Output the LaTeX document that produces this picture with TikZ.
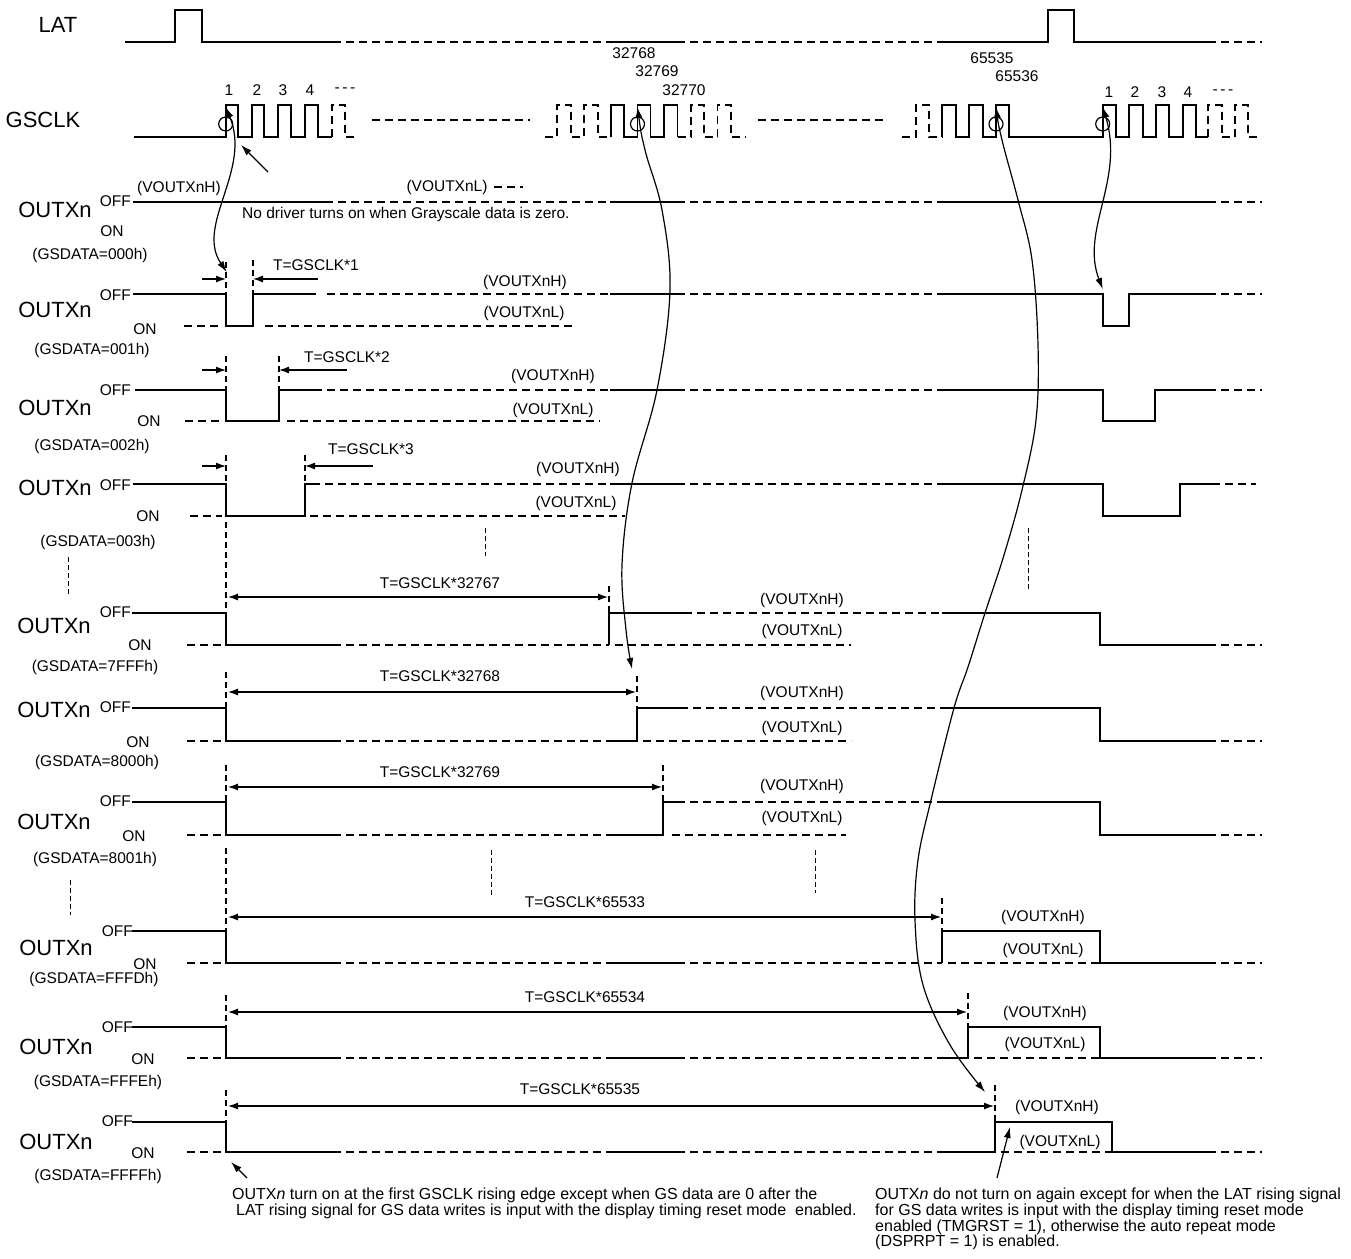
\documentclass[tikz,border=0pt]{standalone}
\usepackage{fontspec}
\setmainfont{Liberation Sans}
\usetikzlibrary{arrows.meta}
\begin{document}
\begin{tikzpicture}[x=1pt,y=-1pt,
  sig/.style={line width=1.7pt, line join=miter},
  dsig/.style={line width=1.7pt, dash pattern=on 8pt off 5pt},
  vmk/.style={line width=1.1pt, dash pattern=on 6pt off 4pt},
  sepd/.style={line width=1pt, dash pattern=on 5pt off 3pt},
  dimr/.style={line width=1.2pt, -{Latex[length=10pt,width=7pt]}},
  diml/.style={line width=1.2pt, {Latex[length=10pt,width=7pt]}-{Latex[length=10pt,width=7pt]}},
  curv/.style={line width=1.2pt, {Latex[length=11pt,width=7pt]}-{Latex[length=11pt,width=7pt]}},
  tipa/.style={line width=1.2pt, -{Latex[length=11pt,width=7pt]}},
  biglbl/.style={font=\fontsize{22}{25}\selectfont, inner sep=0pt},
  lbl/.style={font=\fontsize{15.5}{18}\selectfont, inner sep=0pt},
  notet/.style={font=\fontsize{16}{18}\selectfont, inner sep=0pt, anchor=west}
]
\useasboundingbox (0,0) rectangle (1351,1258);

% ---------------- LAT ----------------
\node[biglbl] (latl) at (58,25) {LAT};
\draw[sig] (125,42) -- (175,42) -- (175,10) -- (202,10) -- (202,42) -- (333,42);
\draw[dsig] (333,42) -- (610,42);
\draw[sig] (610,42) -- (677,42);
\draw[dsig] (677,42) -- (943,42);
\draw[sig] (943,42) -- (1048,42) -- (1048,10) -- (1074,10) -- (1074,42) -- (1208,42);
\draw[dsig] (1208,42) -- (1262,42);

% ---------------- GSCLK ----------------
\node[biglbl] (gsl) at (43,120) {GSCLK};
\draw[sig] (134,137) -- (225.7,137) -- (225.7,105) -- (237.7,105) -- (237.7,137)
  -- (251.7,137) -- (251.7,105) -- (264.3,105) -- (264.3,137)
  -- (278.3,137) -- (278.3,105) -- (291,105) -- (291,137)
  -- (305,137) -- (305,105) -- (318.3,105) -- (318.3,137) -- (331.7,137);
\draw[dsig] (331.7,137) -- (331.7,105) -- (345,105) -- (345,137) -- (358,137);
\draw[dsig] (372,120) -- (530,120);
\draw[dsig] (545,137) -- (557.3,137) -- (557.3,105) -- (570.7,105) -- (570.7,137)
  -- (584,137) -- (584,105) -- (597.7,105) -- (597.7,137) -- (611,137);
\draw[sig] (611,137) -- (611,105) -- (624,105) -- (624,137) -- (637.5,137) -- (637.5,105)
  -- (650.5,105) -- (650.5,137) -- (664,137) -- (664,105) -- (677.5,105) -- (677.5,137);
\draw[dsig] (677.5,137) -- (691,137) -- (691,105) -- (704,105) -- (704,137) -- (717.5,137)
  -- (717.5,105) -- (731,105) -- (731,137) -- (745,137);
\draw[dsig] (758,120) -- (887,120);
\draw[dsig] (902,137) -- (915.7,137) -- (915.7,105) -- (929,105) -- (929,137) -- (942.3,137);
\draw[sig] (942.3,137) -- (942.3,105) -- (955.7,105) -- (955.7,137) -- (969.3,137) -- (969.3,105)
  -- (982.7,105) -- (982.7,137) -- (996,137) -- (996,105) -- (1009.3,105) -- (1009.3,137)
  -- (1102.7,137) -- (1102.7,105) -- (1116,105) -- (1116,137) -- (1129.3,137) -- (1129.3,105)
  -- (1142.7,105) -- (1142.7,137) -- (1156,137) -- (1156,105) -- (1169.3,105) -- (1169.3,137)
  -- (1182.7,137) -- (1182.7,105) -- (1196,105) -- (1196,137) -- (1208.3,137);
\draw[dsig] (1208.3,137) -- (1208.3,105) -- (1221.7,105) -- (1221.7,137) -- (1235,137)
  -- (1235,105) -- (1248.3,105) -- (1248.3,137) -- (1261.7,137);

\node[lbl] (n1a) at (229,90) {1};
\node[lbl] (n2a) at (257,90) {2};
\node[lbl] (n3a) at (283,90) {3};
\node[lbl] (n4a) at (310,90) {4};
\node[lbl] (nda) at (345,90) {-\,-\,-};
\node[lbl] (n1b) at (1109,92) {1};
\node[lbl] (n2b) at (1135,92) {2};
\node[lbl] (n3b) at (1162,92) {3};
\node[lbl] (n4b) at (1188,92) {4};
\node[lbl] (ndb) at (1223,92) {-\,-\,-};
\node[lbl] (c32768) at (634,53) {32768};
\node[lbl] (c32769) at (657,71) {32769};
\node[lbl] (c32770) at (684,90) {32770};
\node[lbl] (c65535) at (992,58) {65535};
\node[lbl] (c65536) at (1017,76) {65536};

\foreach \cx in {225.7,637.5,996,1102.7}
  \draw[line width=1.2pt] (\cx,124) circle (7);
\coordinate (ga) at (225.7,107);
\coordinate (gb) at (637.5,107);
\coordinate (gc) at (996,107);
\coordinate (gd) at (1102.7,107);

% ---------------- Row 0 ----------------
\node[biglbl] (o0) at (55,210) {OUTXn};
\node[lbl,anchor=east] (off0) at (131,201) {OFF};
\node[lbl] (on0) at (112,231) {ON};
\node[lbl] (gs0) at (90,255) {(GSDATA=000h)};
\node[lbl] (vh0) at (179,188) {(VOUTXnH)};
\node[lbl] (vl0) at (447,187) {(VOUTXnL)};
\draw[dsig] (494,187) -- (523,187);
\node[lbl,anchor=west] (nd0) at (242,214) {No driver turns on when Grayscale data is zero.};
\draw[sig] (133,202) -- (325,202);
\draw[dsig] (325,202) -- (610,202);
\draw[sig] (610,202) -- (677,202);
\draw[dsig] (677,202) -- (942,202);
\draw[sig] (942,202) -- (1208,202);
\draw[dsig] (1208,202) -- (1262,202);

% ---------------- Row 1 ----------------
\node[biglbl] (o1) at (55,310) {OUTXn};
\node[lbl,anchor=east] (off1) at (131,295) {OFF};
\node[lbl] (on1) at (145,329) {ON};
\node[lbl] (gs1) at (92,350) {(GSDATA=001h)};
\node[lbl] (vh1) at (525,282) {(VOUTXnH)};
\node[lbl] (vl1) at (524,313) {(VOUTXnL)};
\node[lbl] (t1) at (316,265) {T=GSCLK*1};
\draw[sig] (133,294) -- (226,294) -- (226,326) -- (253,326) -- (253,294) -- (316,294);
\draw[dsig] (327,294) -- (610,294);
\draw[sig] (610,294) -- (677,294);
\draw[dsig] (677,294) -- (942,294);
\draw[sig] (942,294) -- (1102.7,294) -- (1102.7,326) -- (1129,326) -- (1129,294) -- (1208,294);
\draw[dsig] (1208,294) -- (1262,294);
\draw[dsig] (184,326) -- (222,326);
\draw[dsig] (265,326) -- (572,326);
\draw[vmk] (226,262) -- (226,294);
\draw[vmk] (253,260) -- (253,294);
\coordinate (a1l) at (202,279); \coordinate (a1r) at (318,279);
\coordinate (m1l) at (226,279); \coordinate (m1r) at (253,279);
\draw[dimr] (a1l) -- (m1l);
\draw[dimr] (a1r) -- (m1r);
\coordinate (r1a) at (226.7,272);
\coordinate (r1b) at (1102.7,289);

% ---------------- Row 2 ----------------
\node[biglbl] (o2) at (55,408) {OUTXn};
\node[lbl,anchor=east] (off2) at (131,390) {OFF};
\node[lbl] (on2) at (149,421) {ON};
\node[lbl] (gs2) at (92,446) {(GSDATA=002h)};
\node[lbl] (vh2) at (553,376) {(VOUTXnH)};
\node[lbl] (vl2) at (553,410) {(VOUTXnL)};
\node[lbl] (t2) at (347,357) {T=GSCLK*2};
\draw[sig] (135,390) -- (226,390) -- (226,421) -- (279,421) -- (279,390) -- (322,390);
\draw[dsig] (327,390) -- (610,390);
\draw[sig] (610,390) -- (677,390);
\draw[dsig] (677,390) -- (942,390);
\draw[sig] (942,390) -- (1102.7,390) -- (1102.7,421) -- (1155,421) -- (1155,390) -- (1208,390);
\draw[dsig] (1208,390) -- (1262,390);
\draw[dsig] (185,421) -- (222,421);
\draw[dsig] (287,421) -- (600,421);
\draw[vmk] (226,356) -- (226,390);
\draw[vmk] (279,356) -- (279,390);
\coordinate (a2l) at (202,370); \coordinate (a2r) at (347,370);
\coordinate (m2l) at (226,370); \coordinate (m2r) at (279,370);
\draw[dimr] (a2l) -- (m2l);
\draw[dimr] (a2r) -- (m2r);

% ---------------- Row 3 ----------------
\node[biglbl] (o3) at (55,488) {OUTXn};
\node[lbl,anchor=east] (off3) at (131,485) {OFF};
\node[lbl] (on3) at (148,516) {ON};
\node[lbl] (gs3) at (98,542) {(GSDATA=003h)};
\node[lbl] (vh3) at (578,469) {(VOUTXnH)};
\node[lbl] (vl3) at (576,503) {(VOUTXnL)};
\node[lbl] (t3) at (371,449) {T=GSCLK*3};
\draw[sig] (133,484) -- (226,484) -- (226,516) -- (305,516) -- (305,484) -- (320,484);
\draw[dsig] (325,484) -- (610,484);
\draw[sig] (610,484) -- (677,484);
\draw[dsig] (677,484) -- (942,484);
\draw[sig] (942,484) -- (1102.7,484) -- (1102.7,516) -- (1180,516) -- (1180,484) -- (1212,484);
\draw[dsig] (1212,484) -- (1256,484);
\draw[dsig] (190,516) -- (222,516);
\draw[dsig] (310,516) -- (625,516);
\draw[vmk] (226,455) -- (226,484);
\draw[vmk] (305,455) -- (305,484);
\coordinate (a3l) at (202,466); \coordinate (a3r) at (373,466);
\coordinate (m3l) at (226,466); \coordinate (m3r) at (305,466);
\draw[dimr] (a3l) -- (m3l);
\draw[dimr] (a3r) -- (m3r);

% separators
\draw[sepd] (68,557) -- (68,595);
\draw[sepd] (485,528) -- (485,556);
\draw[sepd] (1028,528) -- (1028,590);
\draw[sepd] (70,880) -- (70,915);
\draw[sepd] (491,850) -- (491,895);
\draw[sepd] (815,850) -- (815,893);

% ---------------- Rows 4-6 ----------------
% row 4
\node[biglbl] (o4) at (54,626) {OUTXn};
\node[lbl,anchor=east] (off4) at (131,612) {OFF};
\node[lbl] (on4) at (140,645) {ON};
\node[lbl] (gs4) at (95,667) {(GSDATA=7FFFh)};
\node[lbl] (vh4) at (802,600) {(VOUTXnH)};
\node[lbl] (vl4) at (802,631) {(VOUTXnL)};
\node[lbl] (t4) at (440,583) {T=GSCLK*32767};
\draw[sig] (132,613) -- (226,613) -- (226,645) -- (333,645);
\draw[dsig] (333,645) -- (609,645);
\draw[sig] (609,645) -- (609,613) -- (684,613);
\draw[dsig] (684,613) -- (942,613);
\draw[sig] (942,613) -- (1100,613) -- (1100,645) -- (1208,645);
\draw[dsig] (1208,645) -- (1262,645);
\draw[dsig] (187,645) -- (222,645);
\draw[dsig] (615,645) -- (851,645);
\draw[vmk] (226,522) -- (226,613);
\draw[vmk] (609,586) -- (609,613);
\coordinate (d4l) at (228,597); \coordinate (d4r) at (608,597);
\draw[diml] (d4l) -- (d4r);
% row 5
\node[biglbl] (o5) at (54,710) {OUTXn};
\node[lbl,anchor=east] (off5) at (131,707) {OFF};
\node[lbl] (on5) at (138,742) {ON};
\node[lbl] (gs5) at (97,762) {(GSDATA=8000h)};
\node[lbl] (vh5) at (802,693) {(VOUTXnH)};
\node[lbl] (vl5) at (802,728) {(VOUTXnL)};
\node[lbl] (t5) at (440,676) {T=GSCLK*32768};
\draw[sig] (132,708) -- (226,708) -- (226,741) -- (333,741);
\draw[dsig] (333,741) -- (610,741);
\draw[sig] (610,741) -- (637,741) -- (637,708) -- (680,708);
\draw[dsig] (680,708) -- (942,708);
\draw[sig] (942,708) -- (1100,708) -- (1100,741) -- (1208,741);
\draw[dsig] (1208,741) -- (1262,741);
\draw[dsig] (187,741) -- (222,741);
\draw[dsig] (643,741) -- (851,741);
\draw[vmk] (226,672) -- (226,708);
\draw[vmk] (637,676) -- (637,708);
\coordinate (d5l) at (228,692); \coordinate (d5r) at (636,692);
\draw[diml] (d5l) -- (d5r);
\coordinate (r5) at (632,669);
% row 6
\node[biglbl] (o6) at (54,822) {OUTXn};
\node[lbl,anchor=east] (off6) at (131,801) {OFF};
\node[lbl] (on6) at (134,836) {ON};
\node[lbl] (gs6) at (95,859) {(GSDATA=8001h)};
\node[lbl] (vh6) at (802,786) {(VOUTXnH)};
\node[lbl] (vl6) at (802,818) {(VOUTXnL)};
\node[lbl] (t6) at (440,772) {T=GSCLK*32769};
\draw[sig] (132,802) -- (226,802) -- (226,835) -- (333,835);
\draw[dsig] (333,835) -- (610,835);
\draw[sig] (610,835) -- (663,835) -- (663,802) -- (677,802);
\draw[dsig] (677,802) -- (942,802);
\draw[sig] (942,802) -- (1100,802) -- (1100,835) -- (1208,835);
\draw[dsig] (1208,835) -- (1262,835);
\draw[dsig] (187,835) -- (222,835);
\draw[dsig] (672,835) -- (846,835);
\draw[vmk] (226,765) -- (226,802);
\draw[vmk] (663,765) -- (663,802);
\coordinate (d6l) at (228,787); \coordinate (d6r) at (662,787);
\draw[diml] (d6l) -- (d6r);

% ---------------- Rows 7-9 ----------------
% row 7
\node[biglbl] (o7) at (56,948) {OUTXn};
\node[lbl,anchor=east] (off7) at (133,931) {OFF};
\node[lbl] (on7) at (145,964) {ON};
\node[lbl] (gs7) at (94,979) {(GSDATA=FFFDh)};
\node[lbl] (vh7) at (1043,917) {(VOUTXnH)};
\node[lbl] (vl7) at (1043,950) {(VOUTXnL)};
\node[lbl] (t7) at (585,902) {T=GSCLK*65533};
\draw[sig] (132,931) -- (226,931) -- (226,963) -- (333,963);
\draw[dsig] (333,963) -- (610,963);
\draw[sig] (610,963) -- (677,963);
\draw[dsig] (677,963) -- (942,963);
\draw[sig] (942,963) -- (942,931) -- (1100,931) -- (1100,963) -- (1208,963);
\draw[dsig] (1208,963) -- (1262,963);
\draw[dsig] (948,963) -- (1100,963);
\draw[dsig] (187,963) -- (222,963);
\draw[vmk] (226,848) -- (226,931);
\draw[vmk] (942,898) -- (942,931);
\coordinate (d7l) at (228,917); \coordinate (d7r) at (941,917);
\draw[diml] (d7l) -- (d7r);
% row 8
\node[biglbl] (o8) at (56,1047) {OUTXn};
\node[lbl,anchor=east] (off8) at (133,1027) {OFF};
\node[lbl] (on8) at (143,1059) {ON};
\node[lbl] (gs8) at (98,1082) {(GSDATA=FFFEh)};
\node[lbl] (vh8) at (1045,1013) {(VOUTXnH)};
\node[lbl] (vl8) at (1045,1044) {(VOUTXnL)};
\node[lbl] (t8) at (585,997) {T=GSCLK*65534};
\draw[sig] (132,1027) -- (226,1027) -- (226,1058) -- (333,1058);
\draw[dsig] (333,1058) -- (610,1058);
\draw[sig] (610,1058) -- (677,1058);
\draw[dsig] (677,1058) -- (942,1058);
\draw[sig] (942,1058) -- (968,1058) -- (968,1027) -- (1100,1027) -- (1100,1058) -- (1208,1058);
\draw[dsig] (1208,1058) -- (1262,1058);
\draw[dsig] (974,1058) -- (1100,1058);
\draw[dsig] (187,1058) -- (222,1058);
\draw[vmk] (226,995) -- (226,1027);
\draw[vmk] (968,993) -- (968,1027);
\coordinate (d8l) at (228,1012); \coordinate (d8r) at (967,1012);
\draw[diml] (d8l) -- (d8r);
% row 9
\node[biglbl] (o9) at (56,1142) {OUTXn};
\node[lbl,anchor=east] (off9) at (133,1121) {OFF};
\node[lbl] (on9) at (143,1153) {ON};
\node[lbl] (gs9) at (98,1176) {(GSDATA=FFFFh)};
\node[lbl] (vh9) at (1057,1107) {(VOUTXnH)};
\node[lbl] (vl9) at (1060,1142) {(VOUTXnL)};
\node[lbl] (t9) at (580,1089) {T=GSCLK*65535};
\draw[sig] (132,1122) -- (226,1122) -- (226,1152) -- (333,1152);
\draw[dsig] (333,1152) -- (610,1152);
\draw[sig] (610,1152) -- (677,1152);
\draw[dsig] (677,1152) -- (942,1152);
\draw[sig] (942,1152) -- (995,1152) -- (995,1122) -- (1112,1122) -- (1112,1152) -- (1208,1152);
\draw[dsig] (1208,1152) -- (1262,1152);
\draw[dsig] (1001,1152) -- (1112,1152);
\draw[dsig] (187,1152) -- (222,1152);
\draw[vmk] (226,1090) -- (226,1122);
\draw[vmk] (995,1085) -- (995,1122);
\coordinate (d9l) at (228,1106); \coordinate (d9r) at (994,1106);
\draw[diml] (d9l) -- (d9r);
\coordinate (r9) at (985,1092);

% ---------------- curved connectors ----------------
\draw[curv] (ga) .. controls (252,170) and (195,225) .. (r1a);
\draw[curv] (gd) .. controls (1125,180) and (1080,230) .. (r1b);
\draw[curv] plot[smooth, tension=0.6] coordinates {(gb) (645,150) (662,210) (670,290) (657,390) (632,483) (622,565) (626,630) (r5)};
\draw[curv] plot[smooth, tension=0.6] coordinates {(gc) (1002,140) (1018,200) (1032,260) (1038,345) (1036,420) (1022,490) (1004,555) (985,613) (968,667) (954,708) (931,800) (918,860) (915,920) (923,985) (950,1045) (r9)};

% short pointer arrows
\coordinate (pa0) at (268,172); \coordinate (pa1) at (241,145);
\draw[tipa] (pa0) -- (pa1);
\coordinate (pb0) at (247,1178); \coordinate (pb1) at (231,1162);
\draw[tipa] (pb0) -- (pb1);
\coordinate (pc0) at (997,1178); \coordinate (pc1) at (1010,1127);
\draw[tipa] (pc0) -- (pc1);

% ---------------- notes ----------------
\node[notet] (nl1) at (232,1195) {OUTX\textit{n} turn on at the first GSCLK rising edge except when GS data are 0 after the};
\node[notet] (nl2) at (236,1211) {LAT rising signal for GS data writes is input with the display timing reset mode\ \ enabled.};
\node[notet] (nr1) at (875,1195) {OUTX\textit{n} do not turn on again except for when the LAT rising signal};
\node[notet] (nr2) at (875,1211) {for GS data writes is input with the display timing reset mode};
\node[notet] (nr3) at (875,1227) {enabled (TMGRST = 1), otherwise the auto repeat mode};
\node[notet] (nr4) at (875,1242) {(DSPRPT = 1) is enabled.};
\end{tikzpicture}
\end{document}
